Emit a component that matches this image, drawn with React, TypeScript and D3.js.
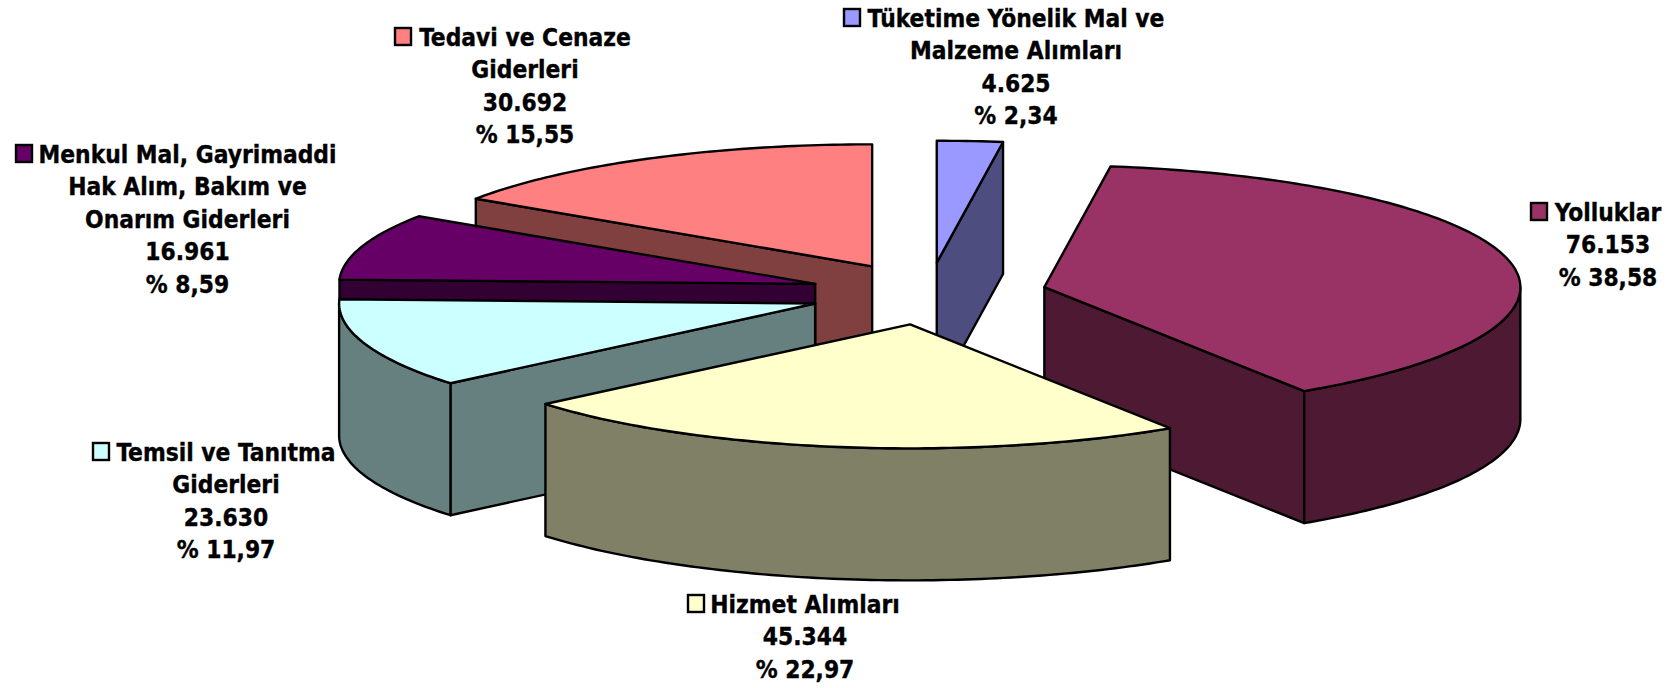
import React from "react";
import * as d3 from "d3";

const names = ["Yolluklar", "Hizmet Alımları", "Temsil ve Tanıtma Giderleri", "Menkul Mal, Gayrimaddi Hak Alım, Bakım ve Onarım Giderleri", "Tedavi ve Cenaze Giderleri", "Tüketime Yönelik Mal ve Malzeme Alımları"];
const values = [76153, 45344, 23630, 16961, 30692, 4625];
const valueLabels = ["76.153", "45.344", "23.630", "16.961", "30.692", "4.625"];
const percentLabels = ["% 38,58", "% 22,97", "% 11,97", "% 8,59", "% 15,55", "% 2,34"];
const topColors = ["#993366", "#FFFFCC", "#CCFFFF", "#660066", "#FF8080", "#9999FF"];
const sideColors = ["#4D1933", "#808066", "#668080", "#330033", "#804040", "#4D4D80"];
const labelLines = [["Yolluklar"], ["Hizmet Alımları"], ["Temsil ve Tanıtma", "Giderleri"], ["Menkul Mal, Gayrimaddi", "Hak Alım, Bakım ve", "Onarım Giderleri"], ["Tedavi ve Cenaze", "Giderleri"], ["Tüketime Yönelik Mal ve", "Malzeme Alımları"]];
// label layout: centre x, first baseline, swatch left
const labelCx = [1608, 805, 226, 187.5, 525, 1016];
const labelY = [221, 613, 461, 163, 46, 27];
const swatchX = [1531, 688, 93, 16, 395, 844];
const drawOrder = [5, 4, 3, 2, 0, 1];

const W = 1677, H = 688;
const CX = 928, CY = 293.7, RX = 476, RY_BACK = 122, RY_FRONT = 124, DEPTH = 132, EXPLODE = 0.25;
const TAU = Math.PI * 2;
const START = (values[5] / d3.sum(values)) * TAU;
const FONT = "'DejaVu Sans Condensed', 'DejaVu Sans', sans-serif";
const deg = (d: number) => (d * Math.PI) / 180;

const arcs = d3.pie<number>().sort(null).startAngle(START).endAngle(START + TAU)(values);
const line = d3.line<[number, number]>();
// slight perspective correction of the 3D view: true slice angle -> drawn angle
const viewAngle = d3.scaleLinear()
  .domain([8.43, 147.3, 230, 273.1, 304, 360, 368.43].map(deg))
  .range([8, 146.9, 230, 272, 303.6, 360, 368].map(deg));

export default function App() {
  const slices = arcs.map((arc, i) => {
    const mid = (arc.startAngle + arc.endAngle) / 2;
    const a0 = viewAngle(arc.startAngle), a1 = viewAngle(arc.endAngle);
    const cx = CX + EXPLODE * RX * Math.sin(mid);
    const cy = CY - EXPLODE * RY_FRONT * Math.cos(mid);
    const pt = (a: number, dz = 0): [number, number] => {
      const c = Math.cos(a);
      return [cx + RX * Math.sin(a), cy - (c > 0 ? RY_BACK : RY_FRONT) * c + dz];
    };
    const arcPts = (from: number, to: number, dz = 0) => {
      const n = Math.max(2, Math.ceil(Math.abs(to - from) * 60));
      return d3.range(n + 1).map((k) => pt(from + ((to - from) * k) / n, dz));
    };
    const face = (a: number) =>
      line([pt(a), [cx, cy], [cx, cy + DEPTH], pt(a, DEPTH)]) + "Z";
    const faces: string[] = [];
    if (Math.sin(a0) < -1e-6) faces.push(face(a0));
    if (Math.sin(a1) > 1e-6) faces.push(face(a1));
    const r0 = Math.max(a0, Math.PI / 2), r1 = Math.min(a1, (3 * Math.PI) / 2);
    const rim = r1 > r0 ? line([...arcPts(r0, r1), ...arcPts(r1, r0, DEPTH)]) + "Z" : null;
    const top = line([[cx, cy], ...arcPts(a0, a1)]) + "Z";
    return { faces, rim, top };
  });

  return (
    <svg width={W} height={H} viewBox={`0 0 ${W} ${H}`} style={{ position: "absolute", left: 0, top: 0, display: "block", background: "#fff" }}>
      {drawOrder.map((i) => (
        <g key={names[i]} stroke="#000" strokeWidth={2.4} strokeLinejoin="round">
          {slices[i].faces.map((d, k) => <path key={k} d={d} fill={sideColors[i]} />)}
          {slices[i].rim && <path d={slices[i].rim!} fill={sideColors[i]} />}
          <path d={slices[i].top} fill={topColors[i]} />
        </g>
      ))}
      {names.map((n, i) => {
        const lines = [...labelLines[i], valueLabels[i], percentLabels[i]];
        return (
          <g key={n}>
            <rect x={swatchX[i]} y={labelY[i] - 18} width={16} height={17} fill={topColors[i]} stroke="#000" strokeWidth={2.4} />
            <text fontFamily={FONT} fontWeight={700} fontSize={24.3} fill="#000" stroke="#000" strokeWidth={0.35} textAnchor="middle">
              {lines.map((t, k) => (
                <tspan key={k} x={labelCx[i]} y={labelY[i] + k * 32.4}>{t}</tspan>
              ))}
            </text>
          </g>
        );
      })}
    </svg>
  );
}
